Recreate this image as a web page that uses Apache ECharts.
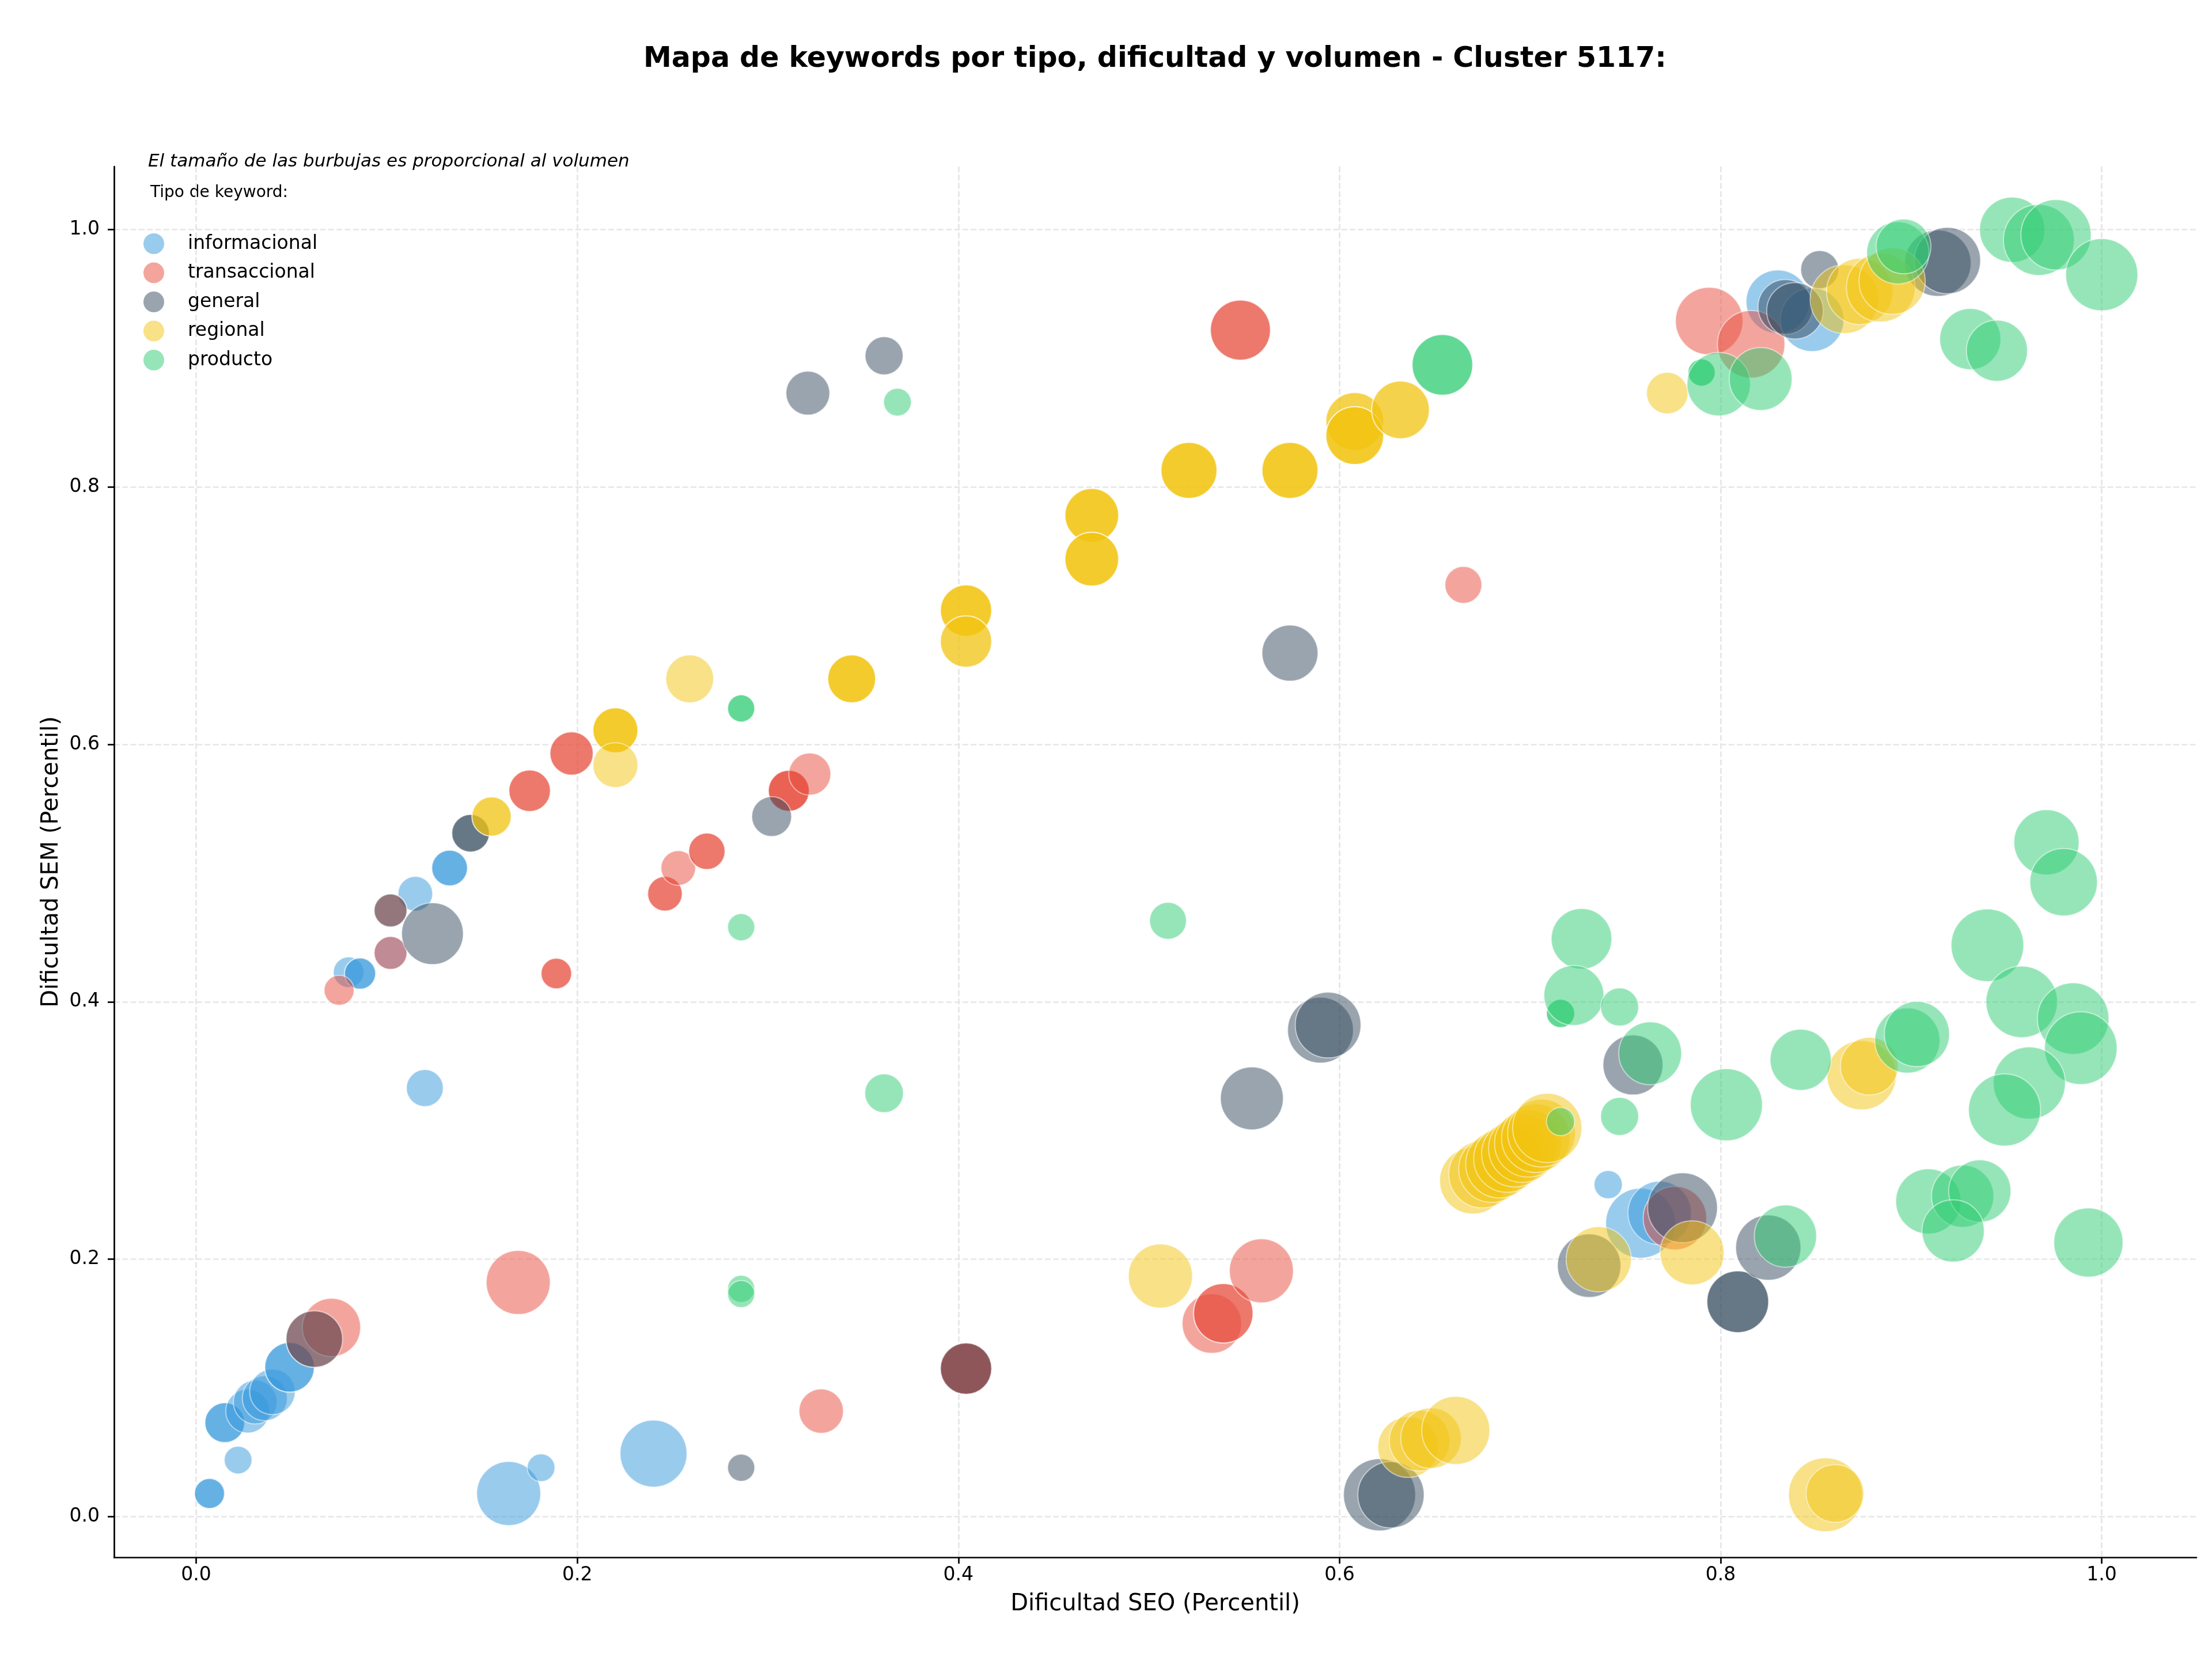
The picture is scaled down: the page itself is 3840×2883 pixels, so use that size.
<!DOCTYPE html>
<html>
<head>
<meta charset="utf-8">
<script src="https://cdn.jsdelivr.net/npm/echarts@6/dist/echarts.min.js"></script>
<style>
html, body { margin: 0; padding: 0; background: #fff; }
#chart { width: 3840px; height: 2883px; }
</style>
</head>
<body>
<div id="chart"></div>
<script>
const TYPES = ['informacional', 'transaccional', 'general', 'regional', 'producto']
const TYPE_COLORS = ['#3498db', '#e74c3c', '#34495e', '#f1c40f', '#2ecc71']
const TICKS = [0, 0.2, 0.4, 0.6, 0.8, 1.0]

// informacional
const infoSeo = [0.007, 0.007, 0.022, 0.015, 0.015, 0.027, 0.031, 0.036, 0.040, 0.049, 0.049, 0.080, 0.086, 0.086, 0.115, 0.133, 0.133, 0.120, 0.164, 0.181, 0.240, 0.741, 0.758, 0.768, 0.830, 0.848, 0.102]
const infoSem = [0.018, 0.018, 0.044, 0.073, 0.073, 0.082, 0.089, 0.092, 0.097, 0.116, 0.116, 0.423, 0.422, 0.422, 0.484, 0.504, 0.504, 0.333, 0.018, 0.038, 0.049, 0.258, 0.228, 0.236, 0.944, 0.930, 0.438]
const infoVol = [264, 264, 225, 465, 465, 564, 564, 594, 610, 722, 722, 274, 285, 285, 352, 375, 375, 400, 1203, 225, 1314, 234, 1430, 1182, 1182, 1182, 317]

// transaccional
const transSeo = [0.075, 0.102, 0.102, 0.062, 0.071, 0.175, 0.175, 0.197, 0.197, 0.189, 0.189, 0.169, 0.246, 0.246, 0.253, 0.268, 0.268, 0.311, 0.311, 0.311, 0.322, 0.328, 0.404, 0.404, 0.404, 0.548, 0.548, 0.533, 0.539, 0.539, 0.559, 0.665, 0.776, 0.794, 0.816]
const transSem = [0.409, 0.471, 0.438, 0.138, 0.147, 0.564, 0.564, 0.593, 0.593, 0.422, 0.422, 0.182, 0.484, 0.484, 0.504, 0.517, 0.517, 0.564, 0.564, 0.564, 0.577, 0.082, 0.115, 0.115, 0.115, 0.922, 0.922, 0.150, 0.158, 0.158, 0.191, 0.724, 0.232, 0.929, 0.911]
const transVol = [264, 317, 317, 938, 996, 506, 506, 549, 549, 274, 274, 1203, 352, 352, 352, 388, 388, 492, 492, 492, 520, 579, 774, 774, 774, 1056, 1056, 1036, 1036, 1036, 1203, 400, 1182, 1337, 1337]

// general
const generalSeo = [0.062, 0.102, 0.124, 0.144, 0.144, 0.302, 0.321, 0.361, 0.286, 0.404, 0.574, 0.554, 0.590, 0.594, 0.621, 0.627, 0.731, 0.754, 0.780, 0.809, 0.809, 0.825, 0.852, 0.834, 0.839, 0.914, 0.919]
const generalSem = [0.138, 0.471, 0.453, 0.531, 0.531, 0.544, 0.873, 0.902, 0.038, 0.115, 0.671, 0.325, 0.378, 0.382, 0.017, 0.017, 0.195, 0.351, 0.240, 0.167, 0.167, 0.209, 0.969, 0.940, 0.937, 0.974, 0.976]
const generalVol = [938, 317, 1118, 413, 413, 465, 564, 425, 216, 774, 919, 1160, 1269, 1269, 1526, 1292, 1182, 1056, 1430, 1118, 1118, 1247, 425, 881, 938, 1292, 1292]

// regional
const regionalSeo = [0.155, 0.155, 0.220, 0.220, 0.220, 0.220, 0.259, 0.344, 0.344, 0.344, 0.404, 0.404, 0.404, 0.404, 0.404, 0.470, 0.470, 0.470, 0.470, 0.470, 0.470, 0.521, 0.521, 0.521, 0.574, 0.574, 0.574, 0.608, 0.608, 0.608, 0.608, 0.608, 0.632, 0.632, 0.506, 0.636, 0.642, 0.648, 0.661, 0.670, 0.675, 0.680, 0.684, 0.688, 0.692, 0.696, 0.699, 0.703, 0.706, 0.709, 0.736, 0.785, 0.772, 0.874, 0.878, 0.855, 0.860, 0.865, 0.873, 0.884, 0.890]
const regionalSem = [0.544, 0.544, 0.611, 0.611, 0.611, 0.584, 0.651, 0.651, 0.651, 0.651, 0.704, 0.704, 0.704, 0.680, 0.680, 0.778, 0.778, 0.778, 0.744, 0.744, 0.744, 0.813, 0.813, 0.813, 0.813, 0.813, 0.813, 0.851, 0.851, 0.840, 0.840, 0.840, 0.860, 0.860, 0.187, 0.054, 0.059, 0.061, 0.067, 0.261, 0.266, 0.270, 0.274, 0.278, 0.282, 0.286, 0.290, 0.294, 0.298, 0.302, 0.200, 0.205, 0.873, 0.343, 0.350, 0.017, 0.018, 0.946, 0.952, 0.955, 0.960]
const regionalVol = [452, 452, 594, 594, 594, 594, 673, 673, 673, 673, 774, 774, 774, 774, 774, 845, 845, 845, 845, 845, 845, 919, 919, 919, 919, 919, 919, 977, 977, 977, 977, 977, 977, 977, 1203, 1077, 1077, 1077, 1360, 1300, 1330, 1300, 1350, 1320, 1300, 1350, 1330, 1380, 1350, 1406, 1247, 1203, 506, 1406, 977, 1600, 977, 1383, 1292, 1383, 1292]

// producto
const productoSeo = [0.286, 0.286, 0.368, 0.286, 0.286, 0.286, 0.361, 0.510, 0.654, 0.654, 0.716, 0.716, 0.716, 0.727, 0.723, 0.747, 0.747, 0.763, 0.790, 0.790, 0.799, 0.821, 0.803, 0.834, 0.842, 0.893, 0.896, 0.931, 0.945, 0.953, 0.967, 0.976, 1.000, 0.971, 0.980, 0.940, 0.958, 0.985, 0.989, 0.962, 0.949, 0.898, 0.903, 0.909, 0.927, 0.936, 0.922, 0.993]
const productoSem = [0.628, 0.628, 0.866, 0.458, 0.177, 0.173, 0.329, 0.463, 0.895, 0.895, 0.391, 0.391, 0.307, 0.449, 0.405, 0.396, 0.311, 0.360, 0.889, 0.889, 0.880, 0.884, 0.320, 0.218, 0.355, 0.982, 0.987, 0.915, 0.906, 1.000, 0.992, 0.996, 0.965, 0.524, 0.493, 0.444, 0.400, 0.387, 0.364, 0.337, 0.316, 0.370, 0.375, 0.245, 0.249, 0.253, 0.222, 0.213]
const productoVol = [216, 216, 225, 216, 216, 216, 438, 400, 1077, 1077, 234, 234, 234, 1077, 1056, 425, 425, 1160, 216, 216, 1182, 1160, 1526, 1139, 1097, 1139, 881, 1097, 1097, 1247, 1477, 1453, 1526, 1247, 1337, 1550, 1502, 1502, 1550, 1526, 1526, 1247, 1247, 1247, 1139, 1139, 1139, 1406]

const FONT = '"DejaVu Sans", sans-serif'

const toPoints = (seo, sem, vol) => seo.map((x, i) => [x, sem[i], vol[i]])

const seriesData = [
    toPoints(infoSeo, infoSem, infoVol),
    toPoints(transSeo, transSem, transVol),
    toPoints(generalSeo, generalSem, generalVol),
    toPoints(regionalSeo, regionalSem, regionalVol),
    toPoints(productoSeo, productoSem, productoVol),
]

const gridLine = { show: true, lineStyle: { color: '#e6e6e6', width: 2.7, type: [10, 4.3] } }
const tickLine = { color: '#000', width: 2.7 }

const chart = echarts.init(document.getElementById('chart'))

chart.setOption({
    animation: false,
    backgroundColor: '#fff',
    grid: { left: 198, right: 27, top: 289, bottom: 180 },
    graphic: [
        {
            type: 'text', x: 2005, y: 103,
            style: { text: 'Mapa de keywords por tipo, dificultad y volumen - Cluster 5117:', font: 'bold 49px "DejaVu Sans"', fill: '#000', align: 'center', verticalAlign: 'middle' },
        },
        {
            type: 'text', x: 257, y: 281,
            style: { text: 'El tamaño de las burbujas es proporcional al volumen', font: 'italic 31px "DejaVu Sans"', fill: '#000', verticalAlign: 'middle' },
        },
        {
            type: 'text', x: 261, y: 335,
            style: { text: 'Tipo de keyword:', font: '28px "DejaVu Sans"', fill: '#000', verticalAlign: 'middle' },
        },
    ],
    legend: {
        orient: 'vertical',
        left: 244,
        top: 400,
        itemWidth: 36,
        itemHeight: 36,
        itemGap: 14.5,
        icon: 'circle',
        data: TYPES,
        itemStyle: { opacity: 0.5, borderWidth: 0 },
        textStyle: { fontSize: 33, color: '#000', fontFamily: FONT, padding: [0, 0, 0, 36] },
    },
    xAxis: {
        type: 'value',
        min: -0.0431,
        max: 1.0497,
        name: 'Dificultad SEO (Percentil)',
        nameLocation: 'middle',
        nameGap: 62,
        nameTextStyle: { fontSize: 40, color: '#000', fontFamily: FONT },
        axisLine: { onZero: false, lineStyle: tickLine },
        axisTick: { show: true, length: 11, lineStyle: tickLine, customValues: TICKS },
        axisLabel: { customValues: TICKS, formatter: v => v.toFixed(1), fontSize: 33, color: '#000', fontFamily: FONT, margin: 15 },
        splitLine: gridLine,
    },
    yAxis: {
        type: 'value',
        min: -0.0316,
        max: 1.0491,
        name: 'Dificultad SEM (Percentil)',
        nameLocation: 'middle',
        nameGap: 82,
        nameTextStyle: { fontSize: 40, color: '#000', fontFamily: FONT },
        axisLine: { show: true, onZero: false, lineStyle: tickLine },
        axisTick: { show: true, length: 11, lineStyle: tickLine, customValues: TICKS },
        axisLabel: { customValues: TICKS, formatter: v => v.toFixed(1), fontSize: 33, color: '#000', fontFamily: FONT, margin: 25 },
        splitLine: gridLine,
    },
    series: TYPES.map((name, i) => ({
        name,
        type: 'scatter',
        data: seriesData[i],
        symbolSize: v => Math.sqrt(v[2]) * 3.2,
        itemStyle: { color: TYPE_COLORS[i], opacity: 0.5, borderColor: '#fff', borderWidth: 2 },
        emphasis: { disabled: true },
    })),
})
</script>
</body>
</html>
